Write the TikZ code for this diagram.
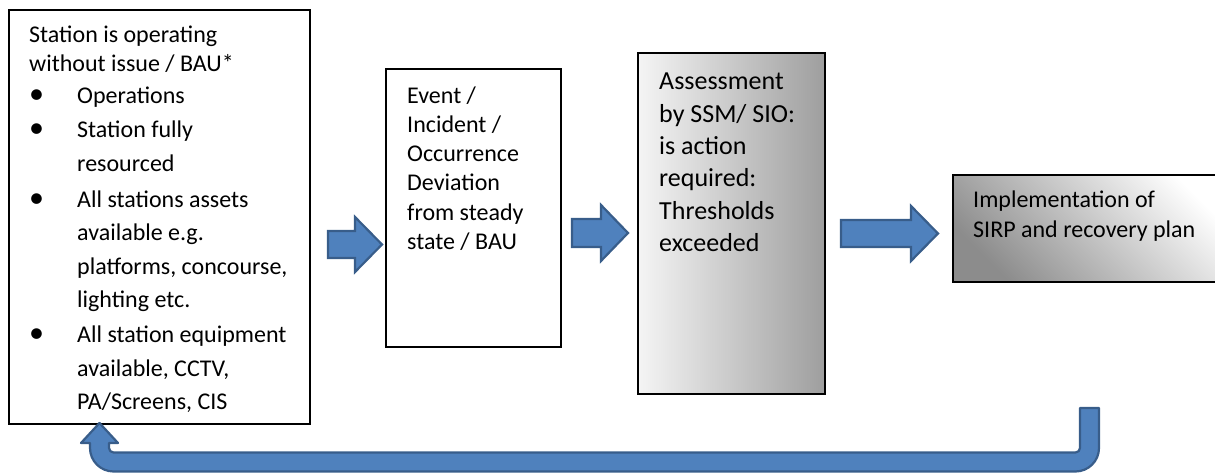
\documentclass[tikz,border=0pt]{standalone}
\usepackage{fontspec}
\setmainfont{Carlito}
\newcommand\mybullet{{\fontsize{30}{30}\selectfont\textbullet}}
\definecolor{arrowfill}{HTML}{4F81BD}
\definecolor{arrowline}{HTML}{385D8A}
\begin{document}
\begin{tikzpicture}[x=1pt,y=1pt,
  box/.style={draw=black, line width=1.1pt, inner sep=0pt, outer sep=0pt, anchor=north west},
  txt/.style={anchor=base west, inner sep=0pt, font=\fontsize{24}{28}\selectfont},
  txtb/.style={anchor=base west, inner sep=0pt, font=\fontsize{26}{30}\selectfont},
  barrow/.style={fill=arrowfill, draw=arrowline, line width=2.2pt, line join=miter},
]
\useasboundingbox (0,0) rectangle (1215,473);
\clip (0,0) rectangle (1215,473);

% boxes
\node[box, minimum width=301pt, minimum height=414pt] (b1) at (9,463) {};
\node[box, minimum width=175pt, minimum height=278pt] (b2) at (386,404) {};
\node[box, minimum width=187pt, minimum height=341pt, left color=white!96!black, right color=black!38] (b3) at (638,420) {};
\node[box, minimum width=280pt, minimum height=107pt, top color=white, bottom color=black!45, shading angle=-45] (b4) at (953,298) {};

% box 1 text
\node[txt] (l1) at (29,430) {Station is operating};
\node[txt] (l2) at (29,401.7) {without issue / BAU*};
\node[txt] (l3) at (29,369) {\makebox[48pt][l]{\mybullet}Operations};
\node[txt] (l4) at (29,335) {\makebox[48pt][l]{\mybullet}Station fully};
\node[txt] (l5) at (77,301.7) {resourced};
\node[txt] (l6) at (29,265) {\makebox[48pt][l]{\mybullet}All stations assets};
\node[txt] (l7) at (77,232.3) {available e.g.};
\node[txt] (l8) at (77,198.3) {platforms, concourse,};
\node[txt] (l9) at (77,165) {lighting etc.};
\node[txt] (l10) at (29,130) {\makebox[48pt][l]{\mybullet}All station equipment};
\node[txt] (l11) at (77,96.7) {available, CCTV,};
\node[txt] (l12) at (77,63.3) {PA/Screens, CIS};

% box 2 text
\node[txt] (m1) at (407,369) {Event /};
\node[txt] (m2) at (407,340) {Incident /};
\node[txt] (m3) at (407,311) {Occurrence};
\node[txt] (m4) at (407,282) {Deviation};
\node[txt] (m5) at (407,252) {from steady};
\node[txt] (m6) at (407,223) {state / BAU};

% box 3 text
\node[txtb] (n1) at (659,383) {Assessment};
\node[txtb] (n2) at (659,350.7) {by SSM/ SIO:};
\node[txtb] (n3) at (659,318.4) {is action};
\node[txtb] (n4) at (659,286.1) {required:};
\node[txtb] (n5) at (659,253.8) {Thresholds};
\node[txtb] (n6) at (659,221.3) {exceeded};

% box 4 text
\node[txt] (p1) at (973,265.7) {Implementation of};
\node[txt] (p2) at (973,235.7) {SIRP and recovery plan};

% block arrows
\draw[barrow] (328,215) -- (355,215) -- (355,201) -- (382,228.5) -- (355,256) -- (355,242) -- (328,242) -- cycle;
\draw[barrow] (572,226) -- (601,226) -- (601,212) -- (628,240) -- (601,268) -- (601,254) -- (572,254) -- cycle;
\draw[barrow] (841,226) -- (911,226) -- (911,212) -- (938,239.5) -- (911,267) -- (911,253) -- (841,253) -- cycle;

% return U-turn arrow
\coordinate (ret) at (99.5,50);
\draw[barrow, line join=round] (1080,65) -- (1099,65) -- (1099,25)
  arc[start angle=0, end angle=-90, radius=23.5pt] -- (113.5,1.5)
  arc[start angle=-90, end angle=-180, radius=23.5pt] -- (90,30) -- (81,30) -- (ret) -- (118,30) -- (109,30) -- (109,25)
  arc[start angle=180, end angle=270, radius=4.5pt] -- (1075.5,20.5)
  arc[start angle=270, end angle=360, radius=4.5pt] -- cycle;
\end{tikzpicture}
\end{document}
